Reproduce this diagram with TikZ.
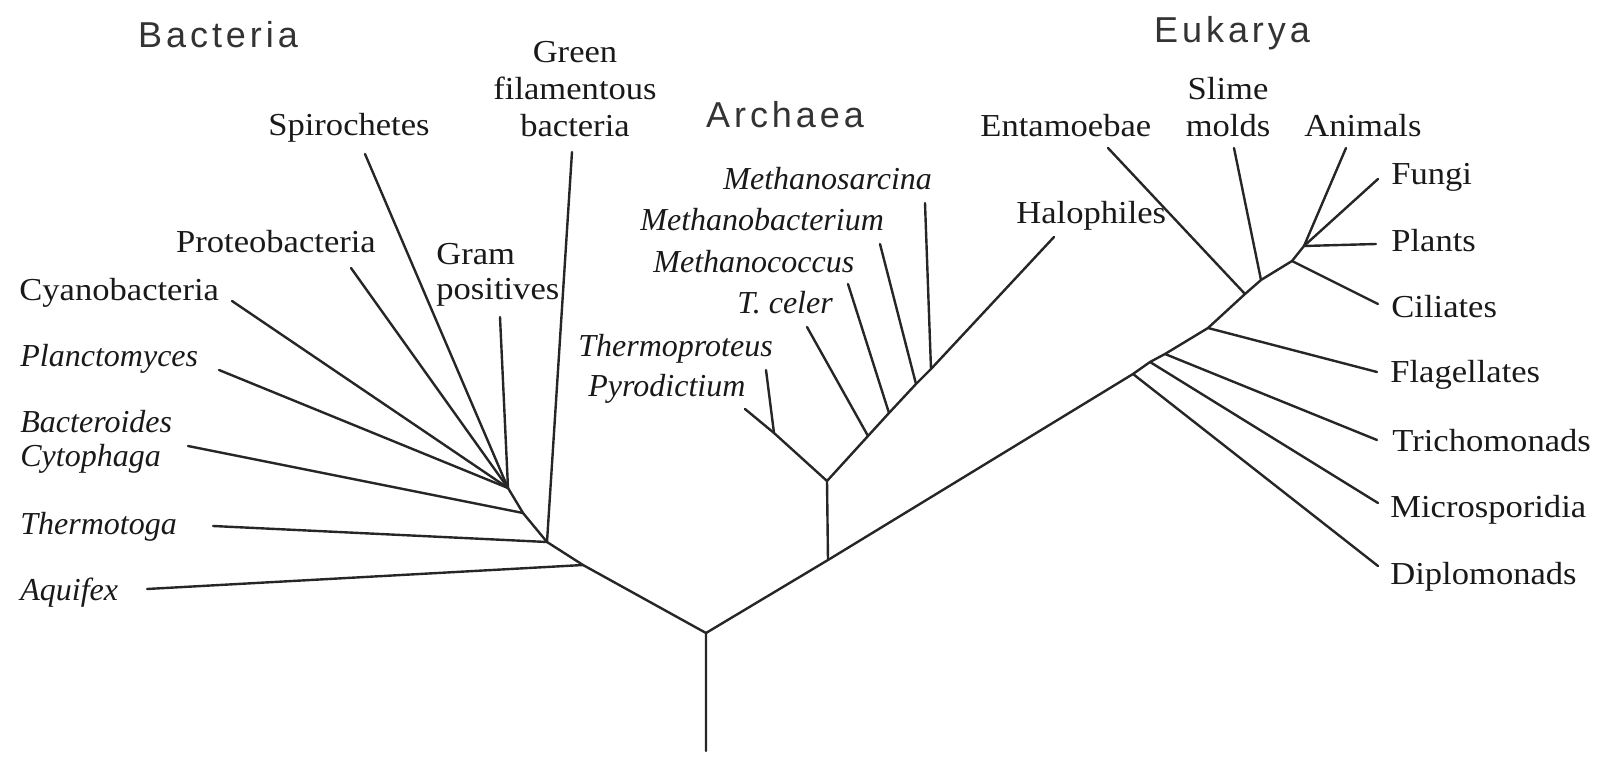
\documentclass[tikz,border=0pt]{standalone}
\usepackage{fontspec}
\setmainfont{Liberation Serif}
\newfontfamily\labrm{Liberation Serif}[FakeStretch=1.08]
\newfontfamily\titlefont{Liberation Sans}[LetterSpace=11]
\begin{document}
\begin{tikzpicture}[x=0.5pt,y=-0.5pt,
  br/.style={line width=1.2pt, draw=black!85, line cap=round, line join=round},
  lab/.style={inner sep=0pt, anchor=base west, font=\labrm\fontsize{16}{18}\selectfont, text=black!90},
  ilab/.style={inner sep=0pt, anchor=base west, font=\rmfamily\itshape\fontsize{16}{18}\selectfont, text=black!90},
  ttl/.style={inner sep=0pt, anchor=base, font=\titlefont\fontsize{18}{20}\selectfont, text=black!80}]
\useasboundingbox (0,0) rectangle (1614,764);
% titles
\node[ttl] (tbac) at (218,48) {Bacteria};
\node[ttl] (tarc) at (785,128) {Archaea};
\node[ttl] (teuk) at (1232,43) {Eukarya};
% bacteria labels
\node[lab,anchor=base] (green1) at (575,63) {Green};
\node[lab,anchor=base] (green2) at (575,100) {filamentous};
\node[lab,anchor=base] (green3) at (575,137) {bacteria};
\node[lab,anchor=base] (spiro) at (349,136) {Spirochetes};
\node[lab,anchor=base] (proteo) at (276,253) {Proteobacteria};
\node[lab] (gram1) at (436,265) {Gram};
\node[lab] (gram2) at (436,300) {positives};
\node[lab] (cyano) at (19,301) {Cyanobacteria};
\node[ilab] (plancto) at (20,367) {Planctomyces};
\node[ilab] (bactero) at (20,433) {Bacteroides};
\node[ilab] (cyto) at (20,467) {Cytophaga};
\node[ilab] (thermo) at (20,535) {Thermotoga};
\node[ilab] (aquifex) at (20,601) {Aquifex};
% archaea labels
\node[ilab] (msarc) at (723,190) {Methanosarcina};
\node[ilab] (mbact) at (640,231) {Methanobacterium};
\node[ilab] (mcocc) at (653,273) {Methanococcus};
\node[ilab] (tceler) at (737,314) {T. celer};
\node[ilab] (tprot) at (578,357) {Thermoproteus};
\node[ilab] (pyro) at (588,397) {Pyrodictium};
\node[lab] (halo) at (1016,224) {Halophiles};
% eukarya labels
\node[lab] (entam) at (980,137) {Entamoebae};
\node[lab,anchor=base] (slime1) at (1228,100) {Slime};
\node[lab,anchor=base] (slime2) at (1228,137) {molds};
\node[lab] (animals) at (1304,137) {Animals};
\node[lab] (fungi) at (1391,185) {Fungi};
\node[lab] (plants) at (1391,252) {Plants};
\node[lab] (cil) at (1391,318) {Ciliates};
\node[lab] (flag) at (1390,383) {Flagellates};
\node[lab] (tricho) at (1392,452) {Trichomonads};
\node[lab] (micro) at (1390,518) {Microsporidia};
\node[lab] (diplo) at (1390,585) {Diplomonads};
% tree coordinates
\coordinate (rb) at (706,751);
\coordinate (R) at (706,633);
\coordinate (B4) at (583,565);
\coordinate (B3) at (547,542);
\coordinate (B2) at (523,513);
\coordinate (B1) at (508,488);
\coordinate (aqE) at (147,589);
\coordinate (thE) at (213,526);
\coordinate (baE) at (188,446);
\coordinate (plE) at (219,370);
\coordinate (cyE) at (232,301);
\coordinate (prE) at (351,268);
\coordinate (spE) at (365,154);
\coordinate (grE) at (500,317);
\coordinate (gfE) at (572,152);
\coordinate (A0) at (828,560);
\coordinate (A1) at (827,481);
\coordinate (AP) at (774,433);
\coordinate (pyE) at (745,409);
\coordinate (tpE) at (766,370);
\coordinate (T1) at (868,436);
\coordinate (T2) at (889,413);
\coordinate (T3) at (916,384);
\coordinate (T4) at (931,369);
\coordinate (haE) at (1054,237);
\coordinate (tcE) at (807,327);
\coordinate (mcE) at (848,284);
\coordinate (mbE) at (880,244);
\coordinate (msE) at (925,203);
\coordinate (E1) at (1133,374);
\coordinate (E2) at (1150,362);
\coordinate (E3) at (1165,354);
\coordinate (E4) at (1208,328);
\coordinate (E5) at (1245,294);
\coordinate (E6) at (1261,280);
\coordinate (E7) at (1292,261);
\coordinate (E8) at (1304,246);
\coordinate (diE) at (1378,566);
\coordinate (miE) at (1378,503);
\coordinate (trE) at (1377,440);
\coordinate (flE) at (1377,372);
\coordinate (ciE) at (1378,304);
\coordinate (plaE) at (1376,244);
\coordinate (fuE) at (1378,179);
\coordinate (anE) at (1346,148);
\coordinate (slE) at (1234,148);
\coordinate (enE) at (1108,148);
% stems
\draw[br] (rb) -- (R) -- (B4) -- (B3) -- (B2) -- (B1);
\draw[br] (R) -- (A0) -- (E1) -- (E2) -- (E3) -- (E4) -- (E5) -- (E6) -- (E7) -- (E8);
\draw[br] (A0) -- (A1) -- (T1) -- (T2) -- (T3) -- (T4) -- (haE);
\draw[br] (A1) -- (AP) -- (pyE);
% bacteria leaves
\draw[br] (aqE) -- (B4);
\draw[br] (thE) -- (B3);
\draw[br] (gfE) -- (B3);
\draw[br] (baE) -- (B2);
\draw[br] (plE) -- (B1);
\draw[br] (cyE) -- (B1);
\draw[br] (prE) -- (B1);
\draw[br] (spE) -- (B1);
\draw[br] (grE) -- (B1);
% archaea leaves
\draw[br] (tpE) -- (AP);
\draw[br] (tcE) -- (T1);
\draw[br] (mcE) -- (T2);
\draw[br] (mbE) -- (T3);
\draw[br] (msE) -- (T4);
% eukarya leaves
\draw[br] (diE) -- (E1);
\draw[br] (miE) -- (E2);
\draw[br] (trE) -- (E3);
\draw[br] (flE) -- (E4);
\draw[br] (enE) -- (E5);
\draw[br] (slE) -- (E6);
\draw[br] (ciE) -- (E7);
\draw[br] (plaE) -- (E8);
\draw[br] (fuE) -- (E8);
\draw[br] (anE) -- (E8);
\end{tikzpicture}
\end{document}
